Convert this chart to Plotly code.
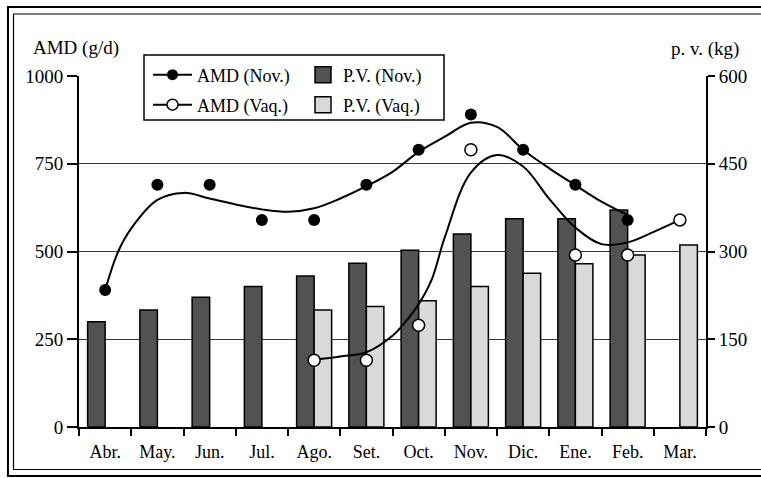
import plotly.graph_objects as go

# ---------------- data ----------------
months = ["Abr.", "May.", "Jun.", "Jul.", "Ago.", "Set.", "Oct.", "Nov.", "Dic.", "Ene.", "Feb.", "Mar."]
idx = list(range(len(months)))

# body weight, kg (right axis)
pv_nov = [180, 200, 222, 240, 258, 280, 302, 330, 356, 356, 371, None]
pv_vaq = [None, None, None, None, 200, 206, 216, 240, 263, 279, 294, 311]

# daily gain, g/d (left axis) - observed points
amd_nov = [390, 690, 690, 590, 590, 690, 790, 890, 790, 690, 590, None]
amd_vaq = [None, None, None, None, 190, 190, 290, 790, None, 490, 490, 590]

# fitted curves, read at month / half-month positions
curve_nov_x = [0, 0.25, 0.5, 1, 1.5, 2, 2.5, 3, 3.5, 4, 4.5, 5, 5.5, 6, 6.5, 7, 7.5, 8, 8.5, 9, 9.5, 10]
curve_nov_y = [390, 500, 566, 647, 667, 651, 634, 620, 613, 623, 651, 686, 727, 784, 827, 867, 855, 790, 737, 689, 642, 604]
curve_vaq_x = [4, 4.5, 5, 5.5, 5.75, 6, 6.25, 6.5, 7, 7.5, 8, 8.5, 9, 9.5, 10, 10.5, 11]
curve_vaq_y = [192, 201, 213, 260, 300, 350, 420, 540, 725, 775, 742, 650, 568, 521, 526, 556, 590]

left_ticks = [0, 250, 500, 750, 1000]
right_ticks = [0, 150, 300, 450, 600]

# ---------------- geometry helpers (pixel -> paper) ----------------
W, H = 761, 478
L, R, T, B = 79, 706, 76, 427
def px(x):
    return (x - L) / (R - L)
def py(y):
    return (B - y) / (B - T)

FONT = "Liberation Serif"
DARK = "#525252"
LIGHT = "#d9d9d9"

fig = go.Figure()

# bars (main y = kg, right side)
fig.add_trace(go.Bar(x=idx, y=pv_nov, name="P.V. (Nov.)", marker=dict(color=DARK, line=dict(color="black", width=1.5)),
                     yaxis="y", showlegend=False))
fig.add_trace(go.Bar(x=idx, y=pv_vaq, name="P.V. (Vaq.)", marker=dict(color=LIGHT, line=dict(color="black", width=1.5)),
                     yaxis="y", showlegend=False))

# curves (y2 = g/d, left side)
fig.add_trace(go.Scatter(x=curve_nov_x, y=curve_nov_y, mode="lines", line=dict(color="black", width=2, shape="spline", smoothing=1),
                         yaxis="y2", showlegend=False, hoverinfo="skip"))
fig.add_trace(go.Scatter(x=curve_vaq_x, y=curve_vaq_y, mode="lines", line=dict(color="black", width=2, shape="spline", smoothing=1),
                         yaxis="y2", showlegend=False, hoverinfo="skip"))
fig.add_trace(go.Scatter(x=idx, y=amd_nov, mode="markers", name="AMD (Nov.)",
                         marker=dict(symbol="circle", size=12, color="black"), yaxis="y2", showlegend=False))
fig.add_trace(go.Scatter(x=idx, y=amd_vaq, mode="markers", name="AMD (Vaq.)",
                         marker=dict(symbol="circle", size=12, color="white", line=dict(color="black", width=1.5)),
                         yaxis="y2", showlegend=False))

# legend entries
fig.add_trace(go.Scatter(x=[None], y=[None], mode="lines+markers", name="AMD (Nov.)",
                         line=dict(color="black", width=2), marker=dict(size=11, color="black"),
                         yaxis="y2", legend="legend"))
fig.add_trace(go.Scatter(x=[None], y=[None], mode="lines+markers", name="AMD (Vaq.)",
                         line=dict(color="black", width=2),
                         marker=dict(size=11, color="white", line=dict(color="black", width=1.5)),
                         yaxis="y2", legend="legend2"))
fig.add_trace(go.Scatter(x=[None], y=[None], mode="markers", name="P.V. (Nov.)",
                         marker=dict(symbol="square", size=16, color=DARK, line=dict(color="black", width=1.5)),
                         yaxis="y2", legend="legend3"))
fig.add_trace(go.Scatter(x=[None], y=[None], mode="markers", name="P.V. (Vaq.)",
                         marker=dict(symbol="square", size=16, color=LIGHT, line=dict(color="black", width=1.5)),
                         yaxis="y2", legend="legend4"))

leg_common = dict(bgcolor="rgba(0,0,0,0)", borderwidth=0, font=dict(family=FONT, size=18, color="black"),
                  xanchor="left", yanchor="middle")

shapes = [
    # double outer frame
    dict(type="rect", xref="paper", yref="paper", x0=px(8), x1=px(775), y0=py(476), y1=py(7),
         line=dict(color="black", width=2), layer="below"),
    dict(type="rect", xref="paper", yref="paper", x0=px(13.5), x1=px(768), y0=py(469.5), y1=py(14),
         line=dict(color="black", width=1.2), layer="below"),
    # legend box
    dict(type="rect", xref="paper", yref="paper", x0=px(144), x1=px(444), y0=py(120), y1=py(55),
         line=dict(color="black", width=1.5), fillcolor="white", layer="above"),
]

fig.update_layout(
    width=W, height=H,
    margin=dict(l=L, r=W - R, t=T, b=H - B),
    paper_bgcolor="white", plot_bgcolor="white",
    font=dict(family=FONT, size=18, color="black"),
    barmode="group", bargap=0.33, bargroupgap=0,
    xaxis=dict(range=[-0.5, 11.5], tickvals=idx, ticktext=months, ticks="", showline=True, linewidth=2,
               linecolor="black", showgrid=False, zeroline=False, tickfont=dict(family=FONT, size=18),
               ticklabelstandoff=7,
               minor=dict(tickmode="array", tickvals=[i - 0.5 for i in range(13)], ticks="outside",
                          ticklen=7, tickwidth=1.5, tickcolor="black", showgrid=False)),
    yaxis=dict(side="right", range=[0, 600], tickvals=right_ticks, ticks="outside", ticklen=7, tickwidth=1.5,
               tickcolor="black", showline=True, linewidth=2, linecolor="black", showgrid=True,
               gridcolor="#3a3a3a", gridwidth=1.2, zeroline=False, tickfont=dict(family=FONT, size=19)),
    yaxis2=dict(overlaying="y", side="left", anchor="x", range=[0, 1000], tickvals=left_ticks, ticks="outside",
                ticklen=10, tickwidth=1.5, tickcolor="black", showline=True, linewidth=2, linecolor="black",
                showgrid=False, zeroline=False, tickfont=dict(family=FONT, size=19)),
    legend=dict(x=px(148), y=py(75), itemwidth=39, **leg_common),
    legend2=dict(x=px(148), y=py(105), itemwidth=39, **leg_common),
    legend3=dict(x=px(303), y=py(75), itemwidth=30, **leg_common),
    legend4=dict(x=px(303), y=py(105), itemwidth=30, **leg_common),
    shapes=shapes,
    annotations=[
        dict(text="AMD (g/d)", xref="paper", yref="paper", x=px(31), y=py(48), xanchor="left", yanchor="middle",
             showarrow=False, font=dict(family=FONT, size=19)),
        dict(text="p. v. (kg)", xref="paper", yref="paper", x=px(741), y=py(49), xanchor="right", yanchor="middle",
             showarrow=False, font=dict(family=FONT, size=19)),
    ],
    showlegend=True,
)

fig.write_html("out.html", config={"displayModeBar": False},
               post_script="document.body.style.margin='0';document.body.style.overflow='hidden';")
